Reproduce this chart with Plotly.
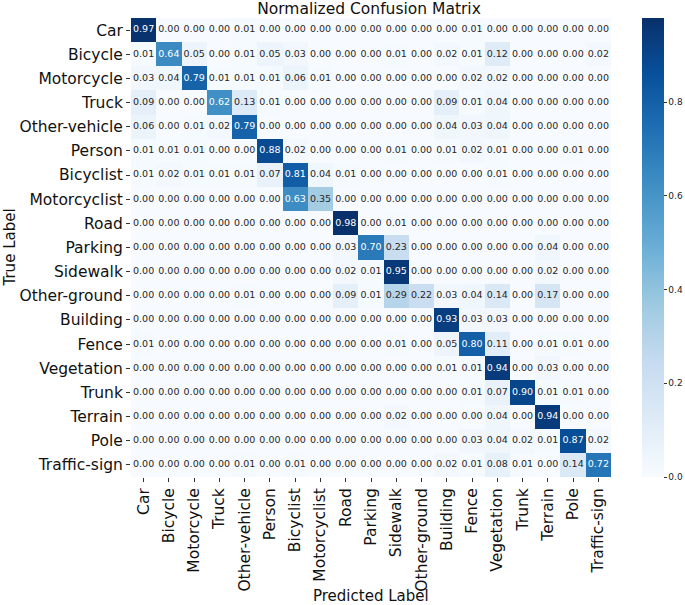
import plotly.graph_objects as go
import plotly.express as px

# class names (rows = true label, columns = predicted label)
classes = ['Car', 'Bicycle', 'Motorcycle', 'Truck', 'Other-vehicle', 'Person',
           'Bicyclist', 'Motorcyclist', 'Road', 'Parking', 'Sidewalk',
           'Other-ground', 'Building', 'Fence', 'Vegetation', 'Trunk',
           'Terrain', 'Pole', 'Traffic-sign']

row_car          = [0.97, 0.00, 0.00, 0.00, 0.01, 0.00, 0.00, 0.00, 0.00, 0.00, 0.00, 0.00, 0.00, 0.01, 0.00, 0.00, 0.00, 0.00, 0.00]
row_bicycle      = [0.01, 0.64, 0.05, 0.00, 0.01, 0.05, 0.03, 0.00, 0.00, 0.00, 0.01, 0.00, 0.02, 0.01, 0.12, 0.00, 0.00, 0.00, 0.02]
row_motorcycle   = [0.03, 0.04, 0.79, 0.01, 0.01, 0.01, 0.06, 0.01, 0.00, 0.00, 0.00, 0.00, 0.00, 0.02, 0.02, 0.00, 0.00, 0.00, 0.00]
row_truck        = [0.09, 0.00, 0.00, 0.62, 0.13, 0.01, 0.00, 0.00, 0.00, 0.00, 0.00, 0.00, 0.09, 0.01, 0.04, 0.00, 0.00, 0.00, 0.00]
row_othervehicle = [0.06, 0.00, 0.01, 0.02, 0.79, 0.00, 0.00, 0.00, 0.00, 0.00, 0.00, 0.00, 0.04, 0.03, 0.04, 0.00, 0.00, 0.00, 0.00]
row_person       = [0.01, 0.01, 0.01, 0.00, 0.00, 0.88, 0.02, 0.00, 0.00, 0.00, 0.01, 0.00, 0.01, 0.02, 0.01, 0.00, 0.00, 0.01, 0.00]
row_bicyclist    = [0.01, 0.02, 0.01, 0.01, 0.01, 0.07, 0.81, 0.04, 0.01, 0.00, 0.00, 0.00, 0.00, 0.00, 0.01, 0.00, 0.00, 0.00, 0.00]
row_motorcyclist = [0.00, 0.00, 0.00, 0.00, 0.00, 0.00, 0.63, 0.35, 0.00, 0.00, 0.00, 0.00, 0.00, 0.00, 0.00, 0.00, 0.00, 0.00, 0.00]
row_road         = [0.00, 0.00, 0.00, 0.00, 0.00, 0.00, 0.00, 0.00, 0.98, 0.00, 0.01, 0.00, 0.00, 0.00, 0.00, 0.00, 0.00, 0.00, 0.00]
row_parking      = [0.00, 0.00, 0.00, 0.00, 0.00, 0.00, 0.00, 0.00, 0.03, 0.70, 0.23, 0.00, 0.00, 0.00, 0.00, 0.00, 0.04, 0.00, 0.00]
row_sidewalk     = [0.00, 0.00, 0.00, 0.00, 0.00, 0.00, 0.00, 0.00, 0.02, 0.01, 0.95, 0.00, 0.00, 0.00, 0.00, 0.00, 0.02, 0.00, 0.00]
row_otherground  = [0.00, 0.00, 0.00, 0.00, 0.01, 0.00, 0.00, 0.00, 0.09, 0.01, 0.29, 0.22, 0.03, 0.04, 0.14, 0.00, 0.17, 0.00, 0.00]
row_building     = [0.00, 0.00, 0.00, 0.00, 0.00, 0.00, 0.00, 0.00, 0.00, 0.00, 0.00, 0.00, 0.93, 0.03, 0.03, 0.00, 0.00, 0.00, 0.00]
row_fence        = [0.01, 0.00, 0.00, 0.00, 0.00, 0.00, 0.00, 0.00, 0.00, 0.00, 0.01, 0.00, 0.05, 0.80, 0.11, 0.00, 0.01, 0.01, 0.00]
row_vegetation   = [0.00, 0.00, 0.00, 0.00, 0.00, 0.00, 0.00, 0.00, 0.00, 0.00, 0.00, 0.00, 0.01, 0.01, 0.94, 0.00, 0.03, 0.00, 0.00]
row_trunk        = [0.00, 0.00, 0.00, 0.00, 0.00, 0.00, 0.00, 0.00, 0.00, 0.00, 0.00, 0.00, 0.00, 0.01, 0.07, 0.90, 0.01, 0.01, 0.00]
row_terrain      = [0.00, 0.00, 0.00, 0.00, 0.00, 0.00, 0.00, 0.00, 0.00, 0.00, 0.02, 0.00, 0.00, 0.00, 0.04, 0.00, 0.94, 0.00, 0.00]
row_pole         = [0.00, 0.00, 0.00, 0.00, 0.00, 0.00, 0.00, 0.00, 0.00, 0.00, 0.00, 0.00, 0.00, 0.03, 0.04, 0.02, 0.01, 0.87, 0.02]
row_trafficsign  = [0.00, 0.00, 0.00, 0.00, 0.01, 0.00, 0.01, 0.00, 0.00, 0.00, 0.00, 0.00, 0.02, 0.01, 0.08, 0.01, 0.00, 0.14, 0.72]

colorbar_ticks = [0.0, 0.2, 0.4, 0.6, 0.8]

matrix = [row_car, row_bicycle, row_motorcycle, row_truck, row_othervehicle,
          row_person, row_bicyclist, row_motorcyclist, row_road, row_parking,
          row_sidewalk, row_otherground, row_building, row_fence,
          row_vegetation, row_trunk, row_terrain, row_pole, row_trafficsign]

FONT = 'DejaVu Sans'
n = len(classes)

fig = go.Figure()

fig.add_trace(go.Heatmap(
    z=matrix,
    x=classes,
    y=classes,
    colorscale=px.colors.sequential.Blues,
    zmin=0,
    zmax=0.98,
    hovertemplate='True: %{y}<br>Predicted: %{x}<br>%{z:.2f}<extra></extra>',
    colorbar=dict(
        x=1.065, xanchor='left', xpad=0,
        y=0.5, yanchor='middle', len=1.0, lenmode='fraction',
        thickness=22, ypad=0,
        outlinewidth=0,
        tickvals=colorbar_ticks,
        ticktext=['%.1f' % t for t in colorbar_ticks],
        ticks='outside', ticklen=3, tickcolor='#333',
        tickfont=dict(size=9, family=FONT, color='#222'),
    ),
))

# cell annotations: white on dark cells, dark grey on light ones
cell_x, cell_y, cell_txt, cell_col = [], [], [], []
for true_cls, row in zip(classes, matrix):
    for pred_cls, v in zip(classes, row):
        cell_x.append(pred_cls)
        cell_y.append(true_cls)
        cell_txt.append('%.2f' % v)
        cell_col.append('white' if v > 0.5 else '#262626')

fig.add_trace(go.Scatter(
    x=cell_x, y=cell_y, text=cell_txt, mode='text',
    textposition='middle center',
    textfont=dict(size=9.5, family=FONT, color=cell_col),
    hoverinfo='skip', showlegend=False,
))

fig.update_layout(
    width=685, height=605,
    margin=dict(l=131, r=74, t=18, b=128, autoexpand=False),
    paper_bgcolor='white', plot_bgcolor='white',
    font=dict(family=FONT, color='#111'),
    title=dict(text='Normalized Confusion Matrix', x=369 / 685, xanchor='center',
               y=1 - 8.5 / 605, yanchor='middle',
               font=dict(size=15.5, family=FONT, color='#111')),
    xaxis=dict(range=[-0.5, n - 0.5], tickangle=-90, ticks='outside', ticklen=4,
               tickcolor='#333', tickfont=dict(size=15.5, family=FONT, color='#111'),
               showgrid=False, zeroline=False, showline=False, automargin=False),
    yaxis=dict(range=[n - 0.5, -0.5], ticks='outside', ticklen=4, tickcolor='#333',
               tickfont=dict(size=15.5, family=FONT, color='#111'),
               showgrid=False, zeroline=False, showline=False, automargin=False),
    annotations=[
        dict(text='Predicted Label', xref='paper', yref='paper',
             x=0.5, y=-119 / 459, xanchor='center', yanchor='middle',
             showarrow=False, font=dict(size=15, family=FONT, color='#111')),
        dict(text='True Label', xref='paper', yref='paper',
             x=-122 / 480, y=0.5, xanchor='center', yanchor='middle',
             textangle=-90, showarrow=False,
             font=dict(size=15, family=FONT, color='#111')),
    ],
)

# drop the browser's default page margin so the figure sits at the window's corner
fig.write_html("out.html", config={'displayModeBar': False},
               post_script="document.body.style.margin = '0';")
